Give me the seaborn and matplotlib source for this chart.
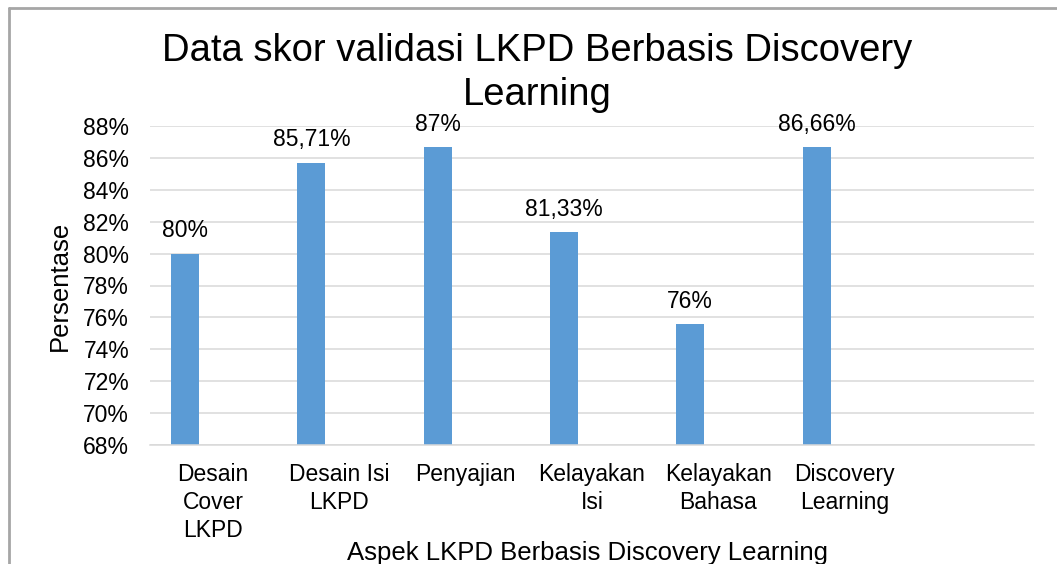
import pandas as pd
import matplotlib.pyplot as plt
import matplotlib.ticker as mticker
from matplotlib.lines import Line2D
import seaborn as sns

# ── Data ──────────────────────────────────────────────────────────────────────
kategori = ["Desain\nCover\nLKPD", "Desain Isi\nLKPD", "Penyajian",
            "Kelayakan\nIsi", "Kelayakan\nBahasa", "Discovery\nLearning"]
skor = [80.0, 85.71, 86.7, 81.33, 75.6, 86.66]
label_skor = ["80%", "85,71%", "87%", "81,33%", "76%", "86,66%"]
# Excel sheet had 7 category rows and 3 series columns, only the first filled
urutan = kategori + [""]
seri = ["Skor", "Seri 2", "Seri 3"]
yticks = list(range(68, 89, 2))

df = pd.DataFrame({"aspek": kategori, "seri": seri[0], "skor": skor})

# ── Style ─────────────────────────────────────────────────────────────────────
sns.set_theme(style="white")
plt.rcParams["font.family"] = ["Liberation Sans", "DejaVu Sans"]
BLUE = "#5B9BD5"
GRID = "#D9D9D9"

fig = plt.figure(figsize=(10.57, 5.64), dpi=100)
ax = fig.add_axes([150 / 1057, 1 - 445 / 564, 884 / 1057, 319 / 564])

sns.barplot(data=df, x="aspek", y="skor", hue="seri", order=urutan,
            hue_order=seri, palette=[BLUE] * 3, saturation=1, width=0.665,
            dodge=True, linewidth=0, legend=False, ax=ax)

ax.bar_label(ax.containers[0], labels=label_skor, padding=8, fontsize=16.5,
             color="black")

ax.set_ylim(68, 88)
ax.set_yticks(yticks)
ax.yaxis.set_major_formatter(mticker.FuncFormatter(lambda v, _: f"{v:.0f}%"))
ax.grid(axis="y", color=GRID, linewidth=1.1)
ax.set_axisbelow(True)
for s in ["top", "right", "left"]:
    ax.spines[s].set_visible(False)
ax.spines["bottom"].set_color(GRID)
ax.spines["bottom"].set_linewidth(1.1)
ax.tick_params(axis="y", length=0, pad=15, labelsize=16.5, labelcolor="black")
ax.tick_params(axis="x", length=0, pad=13, labelsize=16.5, labelcolor="black")
for t in ax.get_xticklabels():
    t.set_linespacing(1.27)

ax.set_ylabel("Persentase", fontsize=18.5, color="black")
ax.yaxis.set_label_coords(-0.088, 0.5)
ax.set_xlabel("Aspek LKPD Berbasis Discovery Learning", fontsize=18.5,
              color="black")
ax.xaxis.set_label_coords(0.495, -0.30)

fig.text(537 / 1057, 1 - 33 / 564,
         "Data skor validasi LKPD Berbasis Discovery\nLearning",
         ha="center", va="top", fontsize=27.5, linespacing=1.3, color="black")

# chart-area frame (only top and left edges visible in the crop)
fig.add_artist(Line2D([9 / 1057, 9 / 1057], [0, 1 - 8 / 564],
                      transform=fig.transFigure, color="#A6A6A6", lw=2))
fig.add_artist(Line2D([9 / 1057, 1], [1 - 8 / 564, 1 - 8 / 564],
                      transform=fig.transFigure, color="#A6A6A6", lw=2))

fig.savefig("out.png", dpi=100, facecolor="white")
